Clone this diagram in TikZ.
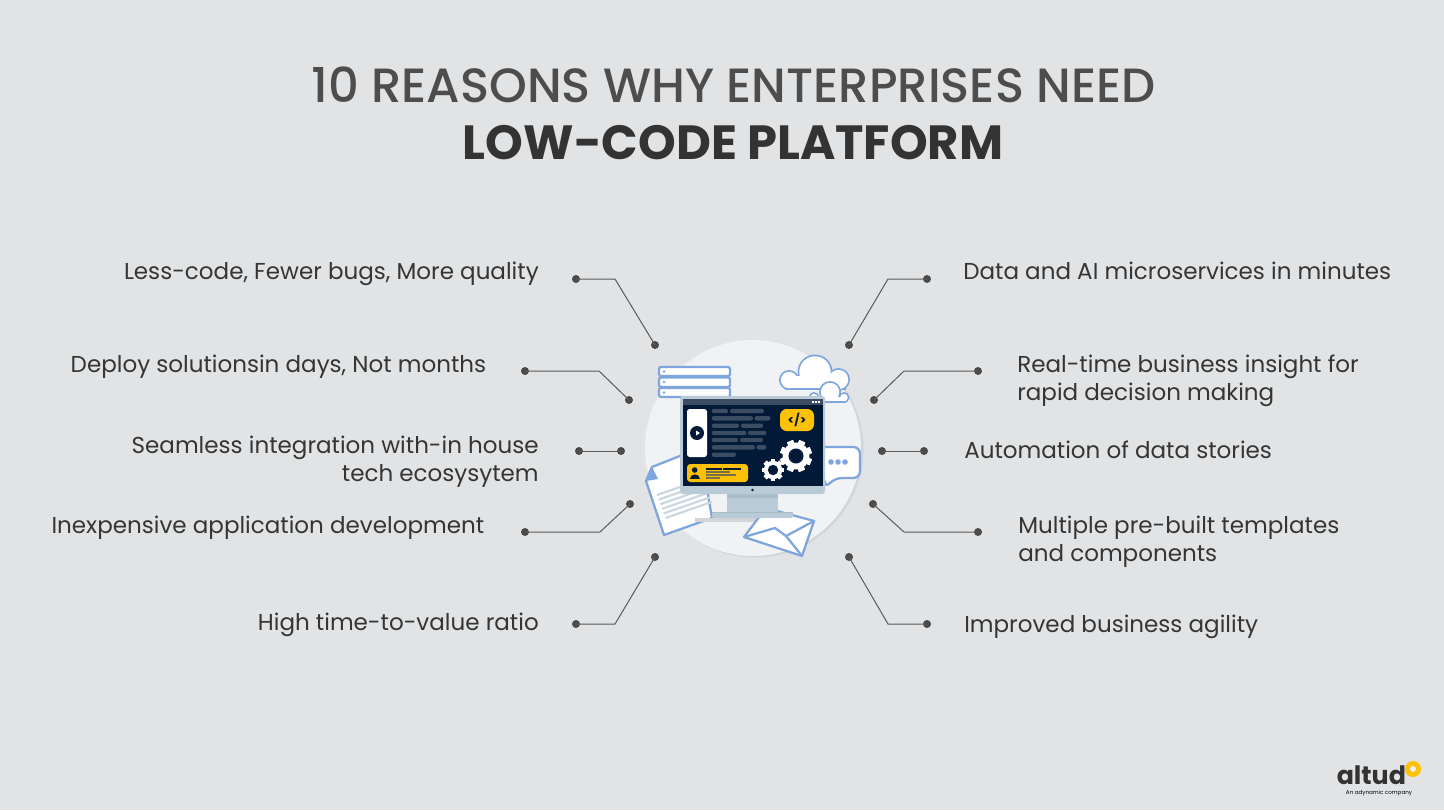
\documentclass[tikz,border=0pt]{standalone}
\usepackage{fontspec}
\setmainfont{Poppins}
\newfontfamily\popmed{Poppins}[UprightFont=* Medium]
\usetikzlibrary{calc}
\definecolor{bgc}{HTML}{E1E3E5}
\definecolor{txt}{HTML}{353535}
\definecolor{ttl}{HTML}{4D4D4D}
\definecolor{ttb}{HTML}{333333}
\definecolor{dotc}{HTML}{4A4A4A}
\definecolor{linec}{HTML}{5A5A5A}
\definecolor{blu}{HTML}{7FA6DC}
\definecolor{navy}{HTML}{021A38}
\definecolor{bar}{HTML}{3C4C63}
\definecolor{ylw}{HTML}{FFC107}
\definecolor{frm}{HTML}{B9CBD6}
\definecolor{frd}{HTML}{A9BDC9}
\definecolor{disc}{HTML}{F1F2F3}
\definecolor{dsh}{HTML}{D3D5D8}
\tikzset{
  x=0.75pt,y=-0.75pt,
  lab/.style={font=\fontsize{17.27pt}{21pt}\selectfont,text=txt,inner sep=0pt,align=left},
  labr/.style={lab,align=right},
  dotn/.style={circle,fill=dotc,inner sep=0pt,minimum size=6pt},
  conn/.style={draw=linec,line width=0.75pt},
  srv/.style={draw=blu,line width=1.7pt,fill=white,rounded corners=1.5pt},
  blueout/.style={draw=blu,line width=1.7pt,fill=white,line join=round},
  tb/.style={fill=bar,rounded corners=1.6pt},
}
\newcommand{\tbar}[3]{\fill[tb] (#1,#3-2.2) rectangle (#2,#3+2.2);}
\newcommand{\gearshape}[3]{%
  \foreach \a in {0,45,...,315}{\fill[white,rotate around={\a+#3:(#1)}] ($(#1)+(-#2*0.2,-#2)$) rectangle ($(#1)+(#2*0.2,#2)$);}
  \fill[white] (#1) circle ({#2*0.84});
  \fill[navy] (#1) circle ({#2*0.47});}
\begin{document}
\begin{tikzpicture}
\useasboundingbox (0,0) rectangle (1444,810);
\fill[bgc] (0,0) rectangle (1444,810);
% title
\node[anchor=base,inner sep=0pt,text=ttl,font=\fontsize{36.05pt}{40pt}\popmed] (title1) at (733.5,102) {10 REASONS WHY ENTERPRISES NEED};
\node[anchor=base,inner sep=0pt,text=ttb,font=\fontsize{36pt}{40pt}\selectfont\bfseries] (title2) at (733,159) {LOW-CODE PLATFORM};
% disc
\fill[dsh] (755,449) circle (108.5);
\fill[disc] (753,448) circle (108);
% servers
\draw[srv] (659,367) rectangle (730,376);
\draw[srv] (659,377.5) rectangle (730,387);
\draw[srv] (659,388) rectangle (730,397);
\foreach \y in {371.5,382,392.5}{\fill[blu] (664,\y) circle (1.4);}
% clouds
\foreach \r/\g/\c in {0/0/blu,1.8/0/white}{
  \fill[\c] (789,380) circle (10-\r);
  \fill[\c] (815,372) circle (17.5-\r);
  \fill[\c] (838.5,379.5) circle (11.5-\r);
  \fill[\c] (785+\r,376) rectangle (846-\r,390-\r);
}
\foreach \r/\g/\c in {0/0/blu,1.8/0/white}{
  \fill[\c] (814,397.5) circle (5.5-\r);
  \fill[\c] (830,392) circle (11-\r);
  \fill[\c] (844,397.5) circle (5.5-\r);
  \fill[\c] (812,397) rectangle (846,403-\r);
}
% speech bubble
\draw[blueout,rounded corners=5pt] (815,447) -- (860,447) -- (860,478) -- (835,478) -- (825,488) -- (825,478) -- (815,478) -- cycle;
\foreach \x in {831,838,845}{\fill[blu] (\x,462) circle (2.8);}
% document
\draw[blueout] (652,467) -- (700,448) -- (712,518) -- (664,535) -- (646,481) -- cycle;
\fill[blu] (646,481) -- (652,467) -- (658,479) -- cycle;
\foreach \i in {0,...,5}{\draw[frm!70!disc,line width=1.6pt] ({657+\i*1.7},{495+\i*4.6}) -- ++(46,-16);}
% monitor stand & shadow
\fill[dsh] (695,518) rectangle (793,522);
% envelope
\draw[blueout] (744,537) -- (766,508) -- (814,521) -- (802,556) -- cycle;
\draw[blu,line width=1.7pt,line join=round] (744,537) -- (775,528) -- (786,536) -- (814,521);
\draw[blu,line width=1.7pt] (786,536) -- (802,556);
\fill[frm] (727,494) rectangle (778,512);
\fill[frd] (727,494) rectangle (778,498);
\fill[frm,rounded corners=1pt] (712,512) rectangle (793,518);
\draw[frd,line width=0.5pt] (712,512) -- (793,512);
% monitor
\fill[frm,rounded corners=2pt] (680,396) rectangle (825,494);
\fill[navy] (683,399) rectangle (823,486);
\fill[bar] (683,399) rectangle (823,405);
\foreach \x in {812,815,818}{\fill[white] (\x,401) rectangle ++(2,2);}
\fill[navy] (752.5,490) circle (1.4);
% phone
\fill[white,rounded corners=2pt] (687,409) rectangle (707,457);
\fill[navy] (697,433) circle (7);
\fill[white] (696,430.5) -- (700,433) -- (696,435.5) -- cycle;
% text bars
\tbar{711.7}{728}{411}\tbar{730}{764}{411}
\tbar{711.7}{753}{418.3}\tbar{754.5}{770.5}{418.3}
\tbar{711.7}{739}{425.7}\tbar{741}{763}{425.7}
\tbar{711.7}{746.5}{433}\tbar{748}{766.5}{433}
\tbar{711.7}{738}{440}\tbar{740}{763}{440}
\tbar{711.7}{755}{447.3}\tbar{756.5}{766.5}{447.3}
\tbar{711.7}{736}{454.7}
% code box
\fill[ylw,rounded corners=5pt] (780,409) rectangle (814,431);
\node[inner sep=0pt,text=navy,font=\fontsize{9pt}{10pt}\selectfont\bfseries] (code) at (797,420) {</>};
% person box
\fill[ylw,rounded corners=2.5pt] (687,464) rectangle (748,482);
\fill[navy] (694.7,470) circle (2.8);
\fill[navy] (690,478.5) .. controls (690,472.5) and (699.5,472.5) .. (699.5,478.5) -- cycle;
\fill[navy] (706,468) rectangle (722,470);
\fill[navy] (723,468) rectangle (741,470);
\fill[bar!70!ylw] (706,471) rectangle (730,473);
\fill[bar!70!ylw] (706,474) rectangle (736,476);
\fill[bar!70!ylw] (706,476.5) rectangle (720,478.5);
% gears
\gearshape{796,456}{16}{22}
\gearshape{773,470}{11}{0}
% left labels
\node[labr,anchor=base east] (l1) at (539,279) {Less-code, Fewer bugs, More quality};
\node[labr,anchor=base east] (l2) at (486.5,372) {Deploy solutionsin days, Not months};
\node[labr,anchor=base east] (l3) at (539,481) {Seamless integration with-in house\\[0pt]tech ecosysytem};
\node[labr,anchor=base east] (l4) at (484.5,533) {Inexpensive application development};
\node[labr,anchor=base east] (l5) at (539,630) {High time-to-value ratio};
% right labels
\node[lab,anchor=base west] (r1) at (963,279) {Data and AI microservices in minutes};
\node[lab,anchor=base west] (r2) at (1017,400) {Real-time business insight for\\[0pt]rapid decision making};
\node[lab,anchor=base west] (r3) at (964,458) {Automation of data stories};
\node[lab,anchor=base west] (r4) at (1018,561) {Multiple pre-built templates\\[0pt]and components};
\node[lab,anchor=base west] (r5) at (964,632) {Improved business agility};
% dots
\foreach \n/\x/\y in {a1/576/279,b1/655/345,a2/525/371,b2/629/400,a3/579/451,b3/621/451,a4/525/532,b4/630/504,a5/576/624,b5/655/557,
 c1/927/279,d1/849/345,c2/978/371,d2/874/400,c3/924/451,d3/882/451,c4/978/532,d4/873/504,c5/927/624,d5/849/557}{
  \node[dotn] (\n) at (\x,\y) {};
}
\coordinate (e1) at (615,279);\coordinate (e2) at (599,371);\coordinate (e4) at (600,532);\coordinate (e5) at (615,624);
\coordinate (f1) at (888,279);\coordinate (f2) at (904,371);\coordinate (f4) at (904,532);\coordinate (f5) at (888,624);
\draw[conn] (a1.center) -- (e1) -- (b1.center);
\draw[conn] (a2.center) -- (e2) -- (b2.center);
\draw[conn] (a3.center) -- (b3.center);
\draw[conn] (a4.center) -- (e4) -- (b4.center);
\draw[conn] (a5.center) -- (e5) -- (b5.center);
\draw[conn] (c1.center) -- (f1) -- (d1.center);
\draw[conn] (c2.center) -- (f2) -- (d2.center);
\draw[conn] (c3.center) -- (d3.center);
\draw[conn] (c4.center) -- (f4) -- (d4.center);
\draw[conn] (c5.center) -- (f5) -- (d5.center);
% logo
\node[anchor=base west,inner sep=0pt,text=ttb,font=\fontsize{19pt}{20pt}\selectfont\bfseries] (logo) at (1336.5,784) {altud};
\fill[ylw] (1413,769) circle (8);
\fill[bgc!60!white] (1413,769) circle (3);
\node[anchor=base,inner sep=0pt,text=black,font=\fontsize{4.2pt}{5pt}\selectfont] (tag) at (1379,794) {An adynamic company};
\end{tikzpicture}
\end{document}
